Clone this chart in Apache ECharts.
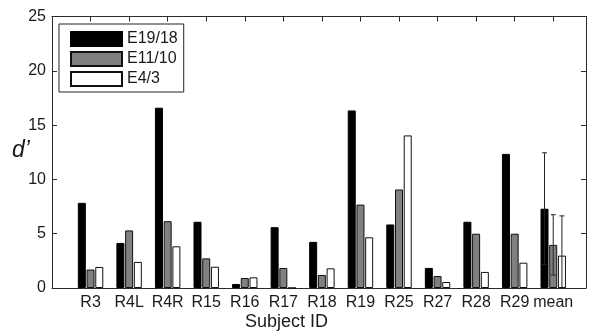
<!DOCTYPE html>
<html>
<head>
<meta charset="utf-8">
<script src="https://cdn.jsdelivr.net/npm/echarts@6/dist/echarts.min.js"></script>
<style>
html,body{margin:0;padding:0;background:#fff;}
#chart{width:589px;height:333px;}
</style>
</head>
<body>
<div id="chart"></div>
<script>
const categories = ['R3','R4L','R4R','R15','R16','R17','R18','R19','R25','R27','R28','R29','mean'];
const e19_18 = [7.84, 4.15, 16.6, 6.1, 0.37, 5.6, 4.25, 16.35, 5.85, 1.85, 6.1, 12.35, 7.3];
const e11_10 = [1.7, 5.3, 6.15, 2.73, 0.92, 1.84, 1.2, 7.68, 9.07, 1.1, 5.0, 5.0, 3.97];
const e4_3   = [1.94, 2.4, 3.84, 1.96, 0.98, 0, 1.81, 4.67, 14.05, 0.55, 1.48, 2.33, 2.98];
const meanErr = [5.15, 2.78, 3.66];
const seriesNames = ['E19/18', 'E11/10', 'E4/3'];
const yTicks = [0, 5, 10, 15, 20, 25];

const FONT = 'Liberation Sans, Arial, Helvetica, sans-serif';
const TXT = '#1a1a1a';
const AX = '#2a2a2a';

const chart = echarts.init(document.getElementById('chart'), null, {renderer: 'canvas'});

const toPairs = arr => arr.map((v, i) => [i, v]);
const meanIndex = categories.length - 1;
const meanVals = [e19_18[meanIndex], e11_10[meanIndex], e4_3[meanIndex]];
const errData = meanErr.map((e, k) => [meanIndex, meanVals[k], e, k]);

const barStyles = [
  {color: '#000000', borderColor: '#000000', borderWidth: 1},
  {color: '#808080', borderColor: '#111111', borderWidth: 1},
  {color: '#ffffff', borderColor: '#111111', borderWidth: 1}
];

const option = {
  animation: false,
  backgroundColor: '#ffffff',
  textStyle: {fontFamily: FONT},
  grid: {left: 52, top: 16.5, width: 540, height: 271.5, containLabel: false},
  legend: {
    data: seriesNames,
    orient: 'vertical',
    left: 59, top: 24,
    itemWidth: 51, itemHeight: 14, itemGap: 4,
    padding: [7, 6, 5, 11],
    borderColor: '#222', borderWidth: 1,
    backgroundColor: '#fff',
    icon: 'rect',
    textStyle: {fontSize: 16, color: TXT, fontFamily: FONT},
    selectedMode: false
  },
  xAxis: [
    {
      type: 'value', position: 'bottom', min: -1, max: 12.85, interval: 1,
      axisLine: {show: true, onZero: false, lineStyle: {color: AX, width: 1}},
      axisTick: {show: false},
      splitLine: {show: false},
      axisLabel: {
        fontSize: 16, color: TXT, fontFamily: FONT, margin: 7,
        formatter: v => (Number.isInteger(v) && v >= 0 && v < categories.length) ? categories[v] : ''
      }
    },
    {
      type: 'value', position: 'top', min: -1, max: 12.85, interval: 1,
      axisLine: {show: true, onZero: false, lineStyle: {color: AX, width: 1}},
      axisTick: {show: true, inside: true, length: 5, lineStyle: {color: AX}},
      splitLine: {show: false},
      axisLabel: {show: false}
    }
  ],
  yAxis: [
    {
      type: 'value', position: 'left', min: yTicks[0], max: yTicks[yTicks.length - 1], interval: 5,
      axisLine: {show: true, onZero: false, lineStyle: {color: AX, width: 1}},
      axisTick: {show: true, inside: true, length: 5, lineStyle: {color: AX}},
      splitLine: {show: false},
      axisLabel: {fontSize: 16, color: TXT, fontFamily: FONT, margin: 6}
    },
    {
      type: 'value', position: 'right', min: yTicks[0], max: yTicks[yTicks.length - 1], interval: 5,
      axisLine: {show: true, onZero: false, lineStyle: {color: AX, width: 1}},
      axisTick: {show: true, inside: true, length: 5, lineStyle: {color: AX}},
      splitLine: {show: false},
      axisLabel: {show: false}
    }
  ],
  series: [
    {name: seriesNames[0], type: 'bar', xAxisIndex: 0, yAxisIndex: 0, data: toPairs(e19_18),
     barWidth: 8, barGap: '9%', itemStyle: barStyles[0]},
    {name: seriesNames[1], type: 'bar', xAxisIndex: 0, yAxisIndex: 0, data: toPairs(e11_10),
     barWidth: 8, barGap: '9%', itemStyle: barStyles[1]},
    {name: seriesNames[2], type: 'bar', xAxisIndex: 0, yAxisIndex: 0, data: toPairs(e4_3),
     barWidth: 8, barGap: '9%', itemStyle: barStyles[2]},
    {
      type: 'custom', name: 'err', xAxisIndex: 0, yAxisIndex: 0, z: 5, clip: true,
      data: errData,
      renderItem: function (params, api) {
        const x = api.value(0), m = api.value(1), e = api.value(2), k = api.value(3);
        const top = api.coord([x, m + e]);
        const bot = api.coord([x, m - e]);
        const cx = top[0] + (k - 1) * 8.7;
        const cap = 2.5;
        const style = {stroke: '#222', lineWidth: 1, fill: null};
        return {
          type: 'group',
          children: [
            {type: 'line', shape: {x1: cx, y1: top[1], x2: cx, y2: bot[1]}, style},
            {type: 'line', shape: {x1: cx - cap, y1: top[1], x2: cx + cap, y2: top[1]}, style},
            {type: 'line', shape: {x1: cx - cap, y1: bot[1], x2: cx + cap, y2: bot[1]}, style}
          ]
        };
      }
    }
  ],
  graphic: [
    {type: 'text', left: 12, top: 139,
     style: {text: "d\u2019", font: 'italic 23px ' + FONT, fill: TXT}},
    {type: 'text', left: 245, top: 313,
     style: {text: 'Subject ID', font: '18px ' + FONT, fill: TXT}}
  ]
};
chart.setOption(option);
</script>
</body>
</html>
